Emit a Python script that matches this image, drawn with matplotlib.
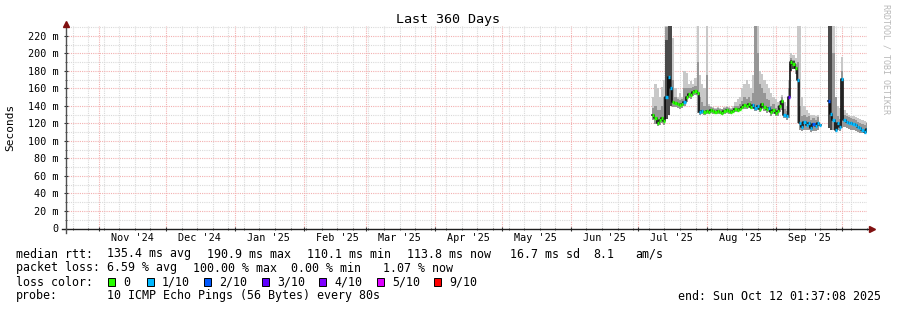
import numpy as np
import matplotlib
matplotlib.use("Agg")
import matplotlib.pyplot as plt
import matplotlib.dates as mdates
import matplotlib.transforms as mtransforms
from matplotlib.patches import Rectangle
from matplotlib.ticker import MultipleLocator, FuncFormatter, NullFormatter
from datetime import datetime, timedelta

plt.rcParams['font.family'] = 'DejaVu Sans Mono'

nan = np.nan

# window of the graph
end_time = datetime(2025, 10, 12, 1, 37, 8)
start_time = end_time - timedelta(days=360)
first_day = datetime(2025, 7, 7, 12, 0)   # first day with data (one value per day)

# median rtt per day (ms)
median = [130, 126, 121, 124, 126, 123, 150, 173, 160, 145,
          143, 142, 141, 142, 145, 150, 154, 152, 156, 157,
          155, 133, 134, 133, 134, 133, 135, 134, 133, 134,
          133, 132, 134, 135, 134, 133, 134, 136, 135, 137,
          139, 141, 140, 142, 139, 141, 138, 140, 137, 142,
          139, 136, 138, 133, 135, 132, 134, 140, 146, 130,
          128, 150, 190, 188, 183, 170, 120, 116, 122, 118,
          121, 115, 119, 117, 121, 118, nan, nan, nan, 146,
          131, 124, 113, 120, 116, 171, 124, 122, 121, 120,
          119, 118, 116, 115, 113, 110, 114]

# loss class per day (index into loss_colors, -1 = no data)
loss = [0, 0, 0, 0, 0, 0, 1, 1, 1, 0,
        0, 0, 0, 0, 1, 0, 0, 0, 0, 0,
        0, 1, 1, 0, 0, 0, 0, 0, 0, 0,
        0, 0, 0, 0, 0, 0, 0, 0, 0, 0,
        0, 0, 0, 0, 0, 1, 1, 1, 0, 0,
        0, 0, 1, 0, 0, 0, 0, 0, 0, 1,
        1, 3, 0, 0, 0, 1, 1, 1, 1, 1,
        1, 1, 2, 1, 1, 1, -1, -1, -1, 2,
        1, 1, 1, 1, 1, 1, 1, 1, 1, 1,
        1, 1, 1, 1, 1, 1, 1]

# smoke envelopes (ms)
smoke_max = [150, 165, 160, 150, 162, 170, 232, 232, 232, 218,
             160, 150, 155, 150, 180, 178, 165, 168, 165, 172,
             232, 175, 165, 160, 232, 142, 140, 139, 138, 139,
             138, 137, 139, 140, 139, 138, 140, 145, 148, 150,
             160, 165, 170, 165, 160, 175, 232, 232, 180, 177,
             170, 165, 160, 155, 150, 148, 145, 145, 152, 145,
             140, 170, 200, 198, 195, 232, 232, 150, 140, 135,
             132, 130, 130, 128, 130, 128, nan, nan, nan, 232,
             232, 232, 150, 140, 138, 196, 135, 132, 130, 129,
             128, 127, 126, 125, 124, 123, 122]

smoke_mid = [138, 140, 135, 135, 140, 150, 230, 232, 210, 170,
             150, 148, 147, 148, 160, 160, 160, 160, 162, 163,
             190, 150, 145, 140, 175, 140, 139, 138, 137, 138,
             137, 136, 138, 139, 138, 137, 138, 140, 140, 142,
             146, 150, 148, 150, 146, 155, 232, 200, 165, 160,
             155, 148, 147, 140, 142, 138, 140, 146, 150, 136,
             134, 160, 195, 193, 188, 190, 140, 128, 130, 127,
             128, 124, 126, 124, 127, 124, nan, nan, nan, 232,
             232, 200, 150, 128, 125, 180, 130, 128, 127, 126,
             125, 124, 122, 121, 119, 118, 120]

smoke_min = [124, 119, 117, 118, 120, 118, 125, 130, 140, 139,
             139, 138, 137, 138, 140, 145, 149, 148, 151, 152,
             132, 130, 131, 130, 131, 131, 132, 131, 131, 131,
             131, 130, 131, 132, 131, 131, 132, 133, 133, 134,
             136, 137, 137, 138, 136, 137, 134, 135, 133, 136,
             134, 132, 133, 129, 131, 128, 129, 133, 135, 126,
             124, 126, 180, 182, 176, 120, 113, 111, 113, 112,
             113, 110, 111, 111, 113, 112, nan, nan, nan, 115,
             113, 112, 110, 112, 111, 115, 116, 115, 114, 113,
             112, 111, 110, 109, 109, 108, 109]

# dark smoke on the heavy days
dark_days = [6, 7, 8, 9, 62, 63, 64, 79, 80, 81]
dark_top = [215, 232, 232, 165, 192, 191, 186, 232, 232, 175]

loss_labels = ["0", "1/10", "2/10", "3/10", "4/10", "5/10", "9/10"]
loss_colors = ["#26ff00", "#00b8ff", "#0059ff", "#5e00ff", "#7e00ff", "#dd00ff", "#ff0000"]

n = len(median)
days = [first_day + timedelta(days=i) for i in range(n + 1)]
xnum = mdates.date2num(days)

def ext(a):
    a = np.array(a, dtype=float)
    return np.append(a, a[-1])

dark = np.full(n, nan)
dark[dark_days] = dark_top

W, H = 897, 310
fig = plt.figure(figsize=(W / 100, H / 100), dpi=100)
fig.patch.set_facecolor("white")
ax = fig.add_axes([66 / W, (H - 228.5) / H, 801 / W, 202.5 / H])
ax.set_facecolor("white")

# smoke
ax.fill_between(xnum, ext(smoke_min), ext(smoke_max), step="post", color="#c8c8c8", lw=0)
ax.fill_between(xnum, ext(smoke_min), ext(smoke_mid), step="post", color="#969696", lw=0)
ax.fill_between(xnum, ext(smoke_min), ext(dark), step="post", color="#4a4a4a", lw=0)

# median
ax.step(xnum, ext(median), where="post", color="black", lw=1.1)
for i in range(n):
    if loss[i] >= 0:
        ax.hlines(median[i], xnum[i], xnum[i + 1], color=loss_colors[loss[i]], lw=2.4)

ax.set_xlim(start_time, end_time)
ax.set_ylim(0, 231.4)

ax.xaxis.set_major_locator(mdates.MonthLocator())
ax.xaxis.set_minor_locator(mdates.WeekdayLocator(byweekday=mdates.SU))
ax.xaxis.set_major_formatter(NullFormatter())
ax.yaxis.set_major_locator(MultipleLocator(20))
ax.yaxis.set_minor_locator(MultipleLocator(10))
ax.yaxis.set_major_formatter(FuncFormatter(lambda v, p: "0" if v == 0 else f"{int(v)} m"))

ax.set_axisbelow(True)
ax.grid(which="major", color="#f3b0b0", linestyle=(0, (1, 1)), lw=0.8)
ax.grid(which="minor", color="#dadada", linestyle=(0, (1, 1)), lw=0.8)
for s in ax.spines.values():
    s.set_visible(False)
ax.tick_params(axis="both", which="major", length=3, width=0.8, color="#303030",
               direction="inout", labelsize=7.3, pad=4)
ax.tick_params(axis="both", which="minor", length=2, width=0.6, color="#303030", direction="inout")
ax.tick_params(axis="x", which="both", labelbottom=False)

# month labels centred half a month after the month start
blend = mtransforms.blended_transform_factory(ax.transData, ax.transAxes)
for month in range(11):
    y, m = 2024 + (10 + month) // 12, (10 + month) % 12 + 1
    d = datetime(y, m, 1) + timedelta(days=15)
    ax.text(mdates.date2num(d), -0.047, d.strftime("%b '%y"), transform=blend,
            ha="center", va="center", fontsize=7.3)

# axis lines and arrows
ax.plot([-0.005, 1.005], [0, 0], transform=ax.transAxes, color="#202020", lw=1, clip_on=False)
ax.plot([0, 0], [-0.02, 1.0], transform=ax.transAxes, color="#505050", lw=1, clip_on=False)
ax.plot([1.006], [0], marker=">", ms=4, color="#801010", transform=ax.transAxes, clip_on=False)
ax.plot([0], [1.01], marker="^", ms=4, color="#801010", transform=ax.transAxes, clip_on=False)

fig.text(448 / W, 1 - 19 / H, "Last 360 Days", ha="center", va="center", fontsize=9.6)
fig.text(10 / W, 1 - 127 / H, "Seconds", rotation=90, ha="center", va="center", fontsize=8)
fig.text(886 / W, 1 - 4 / H, "RRDTOOL / TOBI OETIKER", rotation=270, ha="center", va="top",
         fontsize=6, color="#b8b8b8")

def row(x, y, s, **kw):
    fig.text(x / W, 1 - y / H, s, va="center", fontsize=8.4, **kw)

row(16, 254, "median rtt:")
for x, s in [(107, "135.4 ms avg"), (207, "190.9 ms max"), (307, "110.1 ms min"),
             (407, "113.8 ms now"), (510, "16.7 ms sd"), (593, "8.1"), (635, "am/s")]:
    row(x, 254, s)
row(16, 268, "packet loss:")
for x, s in [(107, "6.59 % avg"), (193, "100.00 % max"), (291, "0.00 % min"), (383, "1.07 % now")]:
    row(x, 268, s)
row(16, 282, "loss color:")
box_x = [108, 147, 204, 262, 319, 377, 434]
for bx, lab, c in zip(box_x, loss_labels, loss_colors):
    fig.add_artist(Rectangle((bx / W, 1 - 286 / H), 7 / W, 8 / H, transform=fig.transFigure,
                             facecolor=c, edgecolor="black", lw=0.7))
    row(bx + 15, 282, lab)
row(16, 296, "probe:")
row(107, 296, "10 ICMP Echo Pings (56 Bytes) every 80s")
fig.text(881 / W, 1 - 296 / H, "end: Sun Oct 12 01:37:08 2025", ha="right", va="center", fontsize=8.4)

fig.savefig("out.png", dpi=100, facecolor="white")
